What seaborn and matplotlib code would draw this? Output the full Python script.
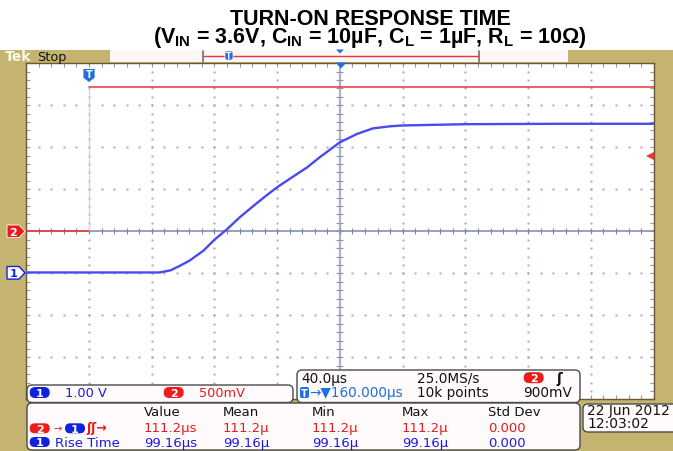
import matplotlib
matplotlib.use("Agg")
import matplotlib.pyplot as plt
from matplotlib.patches import FancyBboxPatch, Polygon, Rectangle
from matplotlib.lines import Line2D
from matplotlib.transforms import Affine2D
import numpy as np
import pandas as pd
import seaborn as sns

# ---- values ----
CH1_TIME_US = [-40, 0, 32, 45, 52, 58, 64, 73, 80, 88, 96, 105, 113, 120,
               128, 139, 147, 160, 171, 181, 192, 200, 240, 300, 360]
CH1_VOLTS = [0.02, 0.02, 0.02, 0.02, 0.07, 0.18, 0.30, 0.54, 0.80, 1.05, 1.33,
             1.61, 1.85, 2.05, 2.25, 2.52, 2.76, 3.12, 3.32, 3.45, 3.50, 3.52,
             3.55, 3.56, 3.56]
CH2_TIME_US = [-40, 0, 0, 360]
CH2_VOLTS = [0.0, 0.0, 1.72, 1.72]

TIME_PER_DIV_US = 40.0
CENTER_TIME_US = 160.0
CH1_VOLTS_PER_DIV = 1.0
CH1_OFFSET_DIV = -1.0
CH2_VOLTS_PER_DIV = 0.5
CH2_OFFSET_DIV = 0.0
TRIGGER_LEVEL_V = 0.9

MEAS_HEADERS = ["Value", "Mean", "Min", "Max", "Std Dev"]
MEAS_DELAY = ["111.2µs", "111.2µ", "111.2µ", "111.2µ", "0.000"]
MEAS_RISE = ["99.16µs", "99.16µ", "99.16µ", "99.16µ", "0.000"]

TITLE = "TURN-ON RESPONSE TIME"
SUBTITLE = (r"(V$_\mathregular{IN}$ = 3.6V, C$_\mathregular{IN}$ = 10µF, "
            r"C$_\mathregular{L}$ = 1µF, R$_\mathregular{L}$ = 10Ω)")

# ---- style ----
sns.set_style("white")
plt.rcParams["font.family"] = ["DejaVu Sans"]

W, H = 673, 452
TAN = "#c5b46f"
BLUE = "#4a4af0"
RED = "#ee3434"
BADGE_BLUE = "#0f22dc"
BADGE_RED = "#ec1c1c"
TXT_BLUE = "#1a1ae0"
TXT_RED = "#e41c1c"
MARK_BLUE = "#1f6fdc"
INK = "#111111"
DOT = "#a4a6bf"

fig = plt.figure(figsize=(W / 100, H / 100), dpi=100, facecolor=TAN)
# pixel coordinates, origin top-left
PX = Affine2D().scale(1.0 / W, -1.0 / H).translate(0, 1) + fig.transFigure

fig.add_artist(Rectangle((0, 0), W, 50.5, transform=PX, fc="white", ec="none", zorder=-5))


def txt(x, y, s, color=INK, size=9.3, **kw):
    kw.setdefault("va", "center")
    fig.text(x, y, s, transform=PX, color=color, fontsize=size, zorder=8, **kw)


def box(x0, y0, x1, y1, fc="#fffbfd", ec="#4a4a4a", r=5):
    fig.add_artist(FancyBboxPatch((x0, y0), x1 - x0, y1 - y0,
                                  boxstyle=f"round,pad=0,rounding_size={r}",
                                  transform=PX, fc=fc, ec=ec, lw=1, zorder=5))


def badge(cx, cy, label, fc, w=20, h=11, tc="white", size=8):
    fig.add_artist(FancyBboxPatch((cx - w / 2, cy - h / 2), w, h,
                                  boxstyle=f"round,pad=0,rounding_size={h / 2}",
                                  transform=PX, fc=fc, ec="none", zorder=7))
    txt(cx, cy + 0.5, label, color=tc, size=size, ha="center", fontweight="bold")


# ---- screen ----
ax = fig.add_axes([26.3 / W, 1 - 400.3 / H, 627.3 / W, 336 / H])
ax.set_facecolor("white")
x_min = CENTER_TIME_US - 5 * TIME_PER_DIV_US
x_max = CENTER_TIME_US + 5 * TIME_PER_DIV_US
x_minor = np.arange(x_min, x_max + 0.1, TIME_PER_DIV_US / 5)
y_minor = np.arange(-4, 4.01, 0.2)

for xv in np.arange(x_min + TIME_PER_DIV_US, x_max, TIME_PER_DIV_US):
    if xv == CENTER_TIME_US:
        continue
    ax.plot(np.full_like(y_minor, xv), y_minor, ls="none", marker="s", ms=1.4,
            mew=0, color=DOT, zorder=1)
for yv in range(-3, 4):
    if yv == 0:
        continue
    ax.plot(x_minor, np.full_like(x_minor, yv), ls="none", marker="s", ms=1.4,
            mew=0, color=DOT, zorder=1)

ax.axhline(0, color="#7c87a8", lw=1.1, zorder=1.5)
ax.axvline(CENTER_TIME_US, color="#a9b1cb", lw=1.6, zorder=1.5)
ax.vlines(x_minor, -0.07, 0.07, color="#7c87a8", lw=0.8, zorder=1.5)
ax.hlines(y_minor, CENTER_TIME_US - 2.2, CENTER_TIME_US + 2.2, color="#8c95b4", lw=0.8, zorder=1.5)

ax.set_xlim(x_min, x_max)
ax.set_ylim(-4, 4)
ax.set_xticks(x_minor)
ax.set_yticks(y_minor)
ax.tick_params(direction="in", length=3, width=0.8, color="#9496b0",
               top=True, right=True, bottom=True, left=True,
               labelbottom=False, labelleft=False)
for sp in ax.spines.values():
    sp.set_color("#6d5632")
    sp.set_linewidth(1)

# ---- traces ----
ch1 = pd.DataFrame({"t": CH1_TIME_US,
                    "div": np.array(CH1_VOLTS) / CH1_VOLTS_PER_DIV + CH1_OFFSET_DIV})
ch2 = pd.DataFrame({"t": CH2_TIME_US,
                    "div": np.array(CH2_VOLTS) / CH2_VOLTS_PER_DIV + CH2_OFFSET_DIV})
sns.lineplot(data=ch2.iloc[1:3], x="t", y="div", ax=ax, color="#f6c4c4", lw=0.9,
             estimator=None, sort=False, zorder=3)
sns.lineplot(data=ch2.iloc[:2], x="t", y="div", ax=ax, color=RED, lw=1.1,
             estimator=None, sort=False, zorder=3)
sns.lineplot(data=ch2.iloc[2:], x="t", y="div", ax=ax, color=RED, lw=1.1,
             estimator=None, sort=False, zorder=3)
sns.lineplot(data=ch1, x="t", y="div", ax=ax, color=BLUE, lw=1.7,
             estimator=None, sort=False, zorder=4)
ax.set_xlabel("")
ax.set_ylabel("")

# trigger level arrow on right edge
trig_div = TRIGGER_LEVEL_V / CH2_VOLTS_PER_DIV + CH2_OFFSET_DIV
ax.plot([x_max - 2.5], [trig_div], marker="<", ms=6, color=RED, mew=0, zorder=6, clip_on=False)
ax.plot([x_max - 2.5, x_max], [trig_div, trig_div], color=RED, lw=1.5, zorder=6, clip_on=False)

# ---- title (one two-line text) ----
fig.text(370 / W, 1 - 43 / H, TITLE + "\n" + SUBTITLE, ha="center", va="baseline",
         multialignment="center", linespacing=0.72, fontsize=15.5, color="black",
         fontweight="bold", family="Liberation Sans")

# ---- top bar ----
txt(5, 57, "Tek", color="#faf6e8", size=10, fontweight="bold")
txt(37, 57, "Stop", size=9.3)
fig.add_artist(Rectangle((110, 50.5), 458, 12.5, transform=PX, fc="#fdf6f8", ec="none", zorder=3))
for xb in (202.5, 478.5):
    fig.add_artist(Line2D([xb, xb], [51.5, 62.5], transform=PX, color="#707070", lw=1.2, zorder=4))
fig.add_artist(Line2D([203, 478], [56.5, 56.5], transform=PX, color=RED, lw=1, zorder=4))
fig.add_artist(FancyBboxPatch((225, 52), 8, 9, boxstyle="round,pad=0,rounding_size=2",
                              transform=PX, fc=MARK_BLUE, ec="white", lw=0.5, zorder=5))
txt(229, 56.8, "T", color="white", size=5.5, ha="center", fontweight="bold")
fig.add_artist(Polygon([(336, 50.5), (344, 50.5), (340, 54.5)], transform=PX, fc=MARK_BLUE, ec="none", zorder=5))

# screen markers
fig.add_artist(Polygon([(335.5, 63.5), (346.5, 63.5), (341, 69.5)], transform=PX,
                       fc=MARK_BLUE, ec="none", zorder=6))
fig.add_artist(Polygon([(83, 69.5), (95, 69.5), (95, 79), (89, 83.5), (83, 79)], transform=PX,
                       fc=MARK_BLUE, ec="white", lw=0.6, zorder=6))
txt(89, 75.5, "T", color="white", size=7, ha="center", fontweight="bold")

fig.add_artist(Polygon([(7, 226), (19, 226), (25, 232.3), (19, 238.6), (7, 238.6)], transform=PX,
                       fc=BADGE_RED, ec="white", lw=0.6, zorder=6))
txt(13.5, 232.8, "2", color="white", size=8, ha="center", fontweight="bold")
fig.add_artist(Polygon([(7, 267.5), (19, 267.5), (25, 273.8), (19, 280.1), (7, 280.1)], transform=PX,
                       fc="white", ec=BADGE_BLUE, lw=1, zorder=6))
txt(13.5, 274.3, "1", color=BADGE_BLUE, size=8, ha="center", fontweight="bold")

# ---- bottom readouts ----
box(27, 386, 293, 403.5)
badge(39.7, 393.5, "1", BADGE_BLUE)
txt(65, 394, "1.00 V", color=TXT_BLUE)
badge(173.7, 393.5, "2", BADGE_RED)
txt(199, 394, "500mV", color=TXT_RED)

box(297, 371, 580, 403.5)
txt(301, 379, "40.0µs", size=9.8)
txt(417, 379, "25.0MS/s", size=9.8)
badge(533.7, 378.7, "2", BADGE_RED)
txt(557, 379, "ʃ", size=10, fontweight="bold")
fig.add_artist(FancyBboxPatch((300, 388), 9, 11, boxstyle="round,pad=0,rounding_size=2",
                              transform=PX, fc=MARK_BLUE, ec="none", zorder=7))
txt(304.5, 393.8, "T", color="white", size=7, ha="center", fontweight="bold")
txt(309.5, 393.5, "→▼160.000µs", color=MARK_BLUE, size=9.8)
txt(417, 393.5, "10k points", size=9.8)
txt(572, 393.5, "900mV", size=9.8, ha="right")

box(27, 404, 580, 451)
col_x = [144, 223, 312, 402, 488]
for x, s in zip(col_x, MEAS_HEADERS):
    txt(x, 413, s, size=9.5)
for x, s in zip(col_x, MEAS_DELAY):
    txt(x, 429, s, color=TXT_RED, size=9.5)
for x, s in zip(col_x, MEAS_RISE):
    txt(x, 443.5, s, color=TXT_BLUE, size=9.5)
badge(39.7, 429.3, "2", BADGE_RED, h=10)
txt(57.5, 429, "→", color=TXT_RED, size=7, ha="center")
badge(75, 429.3, "1", BADGE_BLUE, h=10)
txt(86, 429, "ʃʃ→", color=TXT_RED, size=9, fontweight="bold")
badge(39.7, 443, "1", BADGE_BLUE, h=10)
txt(55, 443.5, "Rise Time", color=TXT_BLUE, size=9.5)

box(583, 405, 680, 433)
txt(587, 411, "22 Jun 2012", size=10)
txt(587, 424, "12:03:02", size=10)

fig.savefig("out.png", dpi=100, facecolor=fig.get_facecolor())
